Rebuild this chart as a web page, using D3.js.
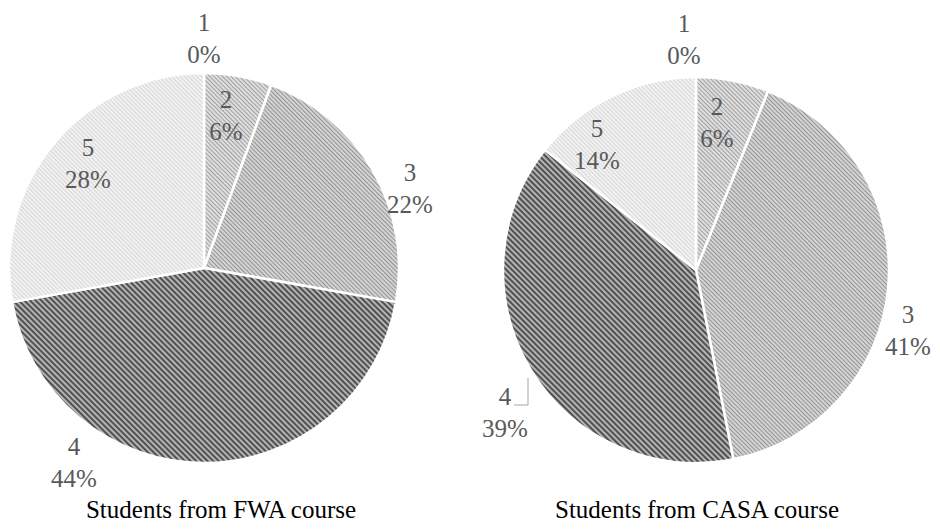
<!DOCTYPE html>
<html><head><meta charset="utf-8">
<script src="https://cdn.jsdelivr.net/npm/d3@7/dist/d3.min.js"></script>
<style>html,body{margin:0;padding:0;background:#fff;}</style>
</head><body>
<svg id="chart" width="940" height="531"></svg>
<script>
// ---- data ----
const categories = ["1", "2", "3", "4", "5"];
const fwaValues  = [0, 5.6, 22.2, 44.4, 27.8];   // % of students (FWA)
const casaValues = [0, 6.1, 40.8, 38.8, 14.3];   // % of students (CASA)
const titles = ["Students from FWA course", "Students from CASA course"];

// ---- layout (not data) ----
const pies = [
  {values: fwaValues, cx: 204, cy: 268, r: 195, title: titles[0], tx: 221, ty: 518,
   labels: [[204, 22], [226, 99], [410, 172], [74, 446], [88, 147]], leader: null},
  {values: casaValues, cx: 696, cy: 270, r: 193, title: titles[1], tx: 697, ty: 518,
   labels: [[684, 23], [717, 106], [908, 314], [505, 396], [597, 128]], leader: 3}
];
const patternStyle = [
  {bg: "#e6e6e6", fg: "#bdbdbd", w: 1, s: 3},
  {bg: "#dedede", fg: "#a0a0a0", w: 1, s: 3},
  {bg: "#d6d6d6", fg: "#949494", w: 1.1, s: 3},
  {bg: "#b4b4b4", fg: "#303030", w: 1.5, s: 4},
  {bg: "#f2f2f2", fg: "#d6d6d6", w: 1, s: 3}
];

const svg = d3.select("#chart");
const defs = svg.append("defs");
patternStyle.forEach((p, i) => {
  const pat = defs.append("pattern").attr("id", "pat" + i)
    .attr("patternUnits", "userSpaceOnUse").attr("width", p.s).attr("height", p.s)
    .attr("patternTransform", "rotate(-45)");
  pat.append("rect").attr("width", p.s).attr("height", p.s).attr("fill", p.bg);
  pat.append("line").attr("x1", p.s / 2).attr("y1", 0).attr("x2", p.s / 2).attr("y2", p.s)
    .attr("stroke", p.fg).attr("stroke-width", p.w);
});

const pieGen = d3.pie().sort(null).value(d => d);
const fontFam = "'Liberation Serif','Times New Roman',serif";

pies.forEach(P => {
  const g = svg.append("g").attr("transform", `translate(${P.cx},${P.cy})`);
  const arc = d3.arc().innerRadius(0).outerRadius(P.r);
  const arcs = pieGen(P.values);
  g.selectAll("path").data(arcs).enter().append("path")
    .attr("d", arc)
    .attr("fill", (d, i) => `url(#pat${i})`)
    .attr("stroke", "#fff").attr("stroke-width", 2.5).attr("stroke-linejoin", "round");

  const lab = svg.append("g").attr("font-family", fontFam).attr("font-size", 25).attr("fill", "#595959")
    .attr("text-anchor", "middle");
  P.values.forEach((v, i) => {
    const [x, y] = P.labels[i];
    lab.append("text").attr("x", x).attr("y", y).attr("dominant-baseline", "central").text(categories[i]);
    lab.append("text").attr("x", x).attr("y", y + 32).attr("dominant-baseline", "central")
      .text(Math.round(v) + "%");
  });
  if (P.leader !== null) {
    const [x, y] = P.labels[P.leader];
    svg.append("path")
      .attr("d", `M${x + 9},${y + 9}H${x + 23}V${y - 18}`)
      .attr("fill", "none").attr("stroke", "#a6a6a6").attr("stroke-width", 1);
  }
  svg.append("text").attr("x", P.tx).attr("y", P.ty).attr("text-anchor", "middle")
    .attr("font-family", fontFam).attr("font-size", 25).attr("fill", "#000").text(P.title);
});
</script>
</body></html>
